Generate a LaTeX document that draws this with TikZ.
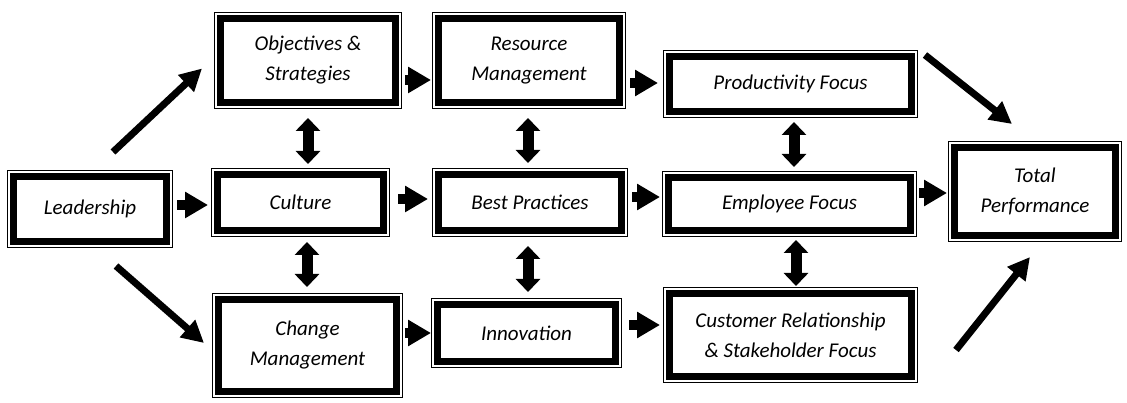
\documentclass[tikz,border=0pt]{standalone}
\usepackage{fontspec}
\setmainfont{Carlito}
\usetikzlibrary{arrows.meta}
\begin{document}
\begin{tikzpicture}[x=1pt,y=-1pt,
  box/.style 2 args={draw=black, line width=7pt, fill=white, inner sep=0pt, outer sep=6.8pt,
    minimum width=#1pt-13.6pt, minimum height=#2pt-13.6pt,
    preaction={draw=black, line width=13.6pt},
    preaction={draw=white, line width=11pt},
    font=\fontsize{21}{30}\selectfont\itshape, align=center},
  blk/.style={line width=10pt, -{Triangle[length=23pt,width=25pt]}},
  dblk/.style={line width=11pt, {Triangle[length=13pt,width=24pt]}-{Triangle[length=13pt,width=24pt]}},
  diag/.style={line width=7pt, -{Triangle[length=22pt,width=22pt]}}
]
\useasboundingbox (0,0) rectangle (1127,403);
\node[box={166}{78}]  (lead)   at (90,209)     {Leadership};
\node[box={188}{97}]  (obj)    at (308,60.5)   {Objectives \&\\Strategies};
\node[box={194}{97}]  (res)    at (529,60.5)   {Resource\\Management};
\node[box={255}{68}]  (prod)   at (790.5,84)   {Productivity Focus};
\node[box={179}{69}]  (cult)   at (300.5,202.5){Culture};
\node[box={196}{69}]  (best)   at (530,202.5)  {Best Practices};
\node[box={255}{66}]  (emp)    at (789.5,204)  {Employee Focus};
\node[box={174}{101}] (total)  at (1035,191.5) {Total\\Performance};
\node[box={191}{105}] (change) at (307.5,345.5){Change\\Management};
\node[box={191}{70}]  (innov)  at (526.5,333)  {Innovation};
\node[box={255}{96}]  (cust)   at (790.5,335)  {Customer Relationship\\\& Stakeholder Focus};

% horizontal block arrows
\draw[blk, shorten <=4pt, shorten >=3pt] (lead.east |- 0,205) -- (cult.west |- 0,205);
\draw[blk, shorten <=8pt, shorten >=4pt] (cult.east |- 0,199) -- (best.west |- 0,199);
\draw[blk, shorten <=4pt, shorten >=2pt] (best.east |- 0,197) -- (emp.west |- 0,197);
\draw[blk, shorten <=2pt, shorten >=1pt] (emp.east |- 0,193) -- (total.west |- 0,193);
\draw[blk, shorten <=3pt, shorten >=1pt] (obj.east |- 0,80) -- (res.west |- 0,80);
\draw[blk, shorten <=4pt, shorten >=5pt] (res.east |- 0,83) -- (prod.west |- 0,83);
\draw[blk, shorten <=2pt, shorten >=0pt] (change.east |- 0,333) -- (innov.west |- 0,333);
\draw[blk, shorten <=7pt, shorten >=3pt] (innov.east |- 0,325) -- (cust.west |- 0,325);

% vertical double arrows
\draw[dblk, shorten <=9pt, shorten >=4pt] (obj.south -| 308,0) -- (cult.north -| 308,0);
\draw[dblk, shorten <=5pt, shorten >=6pt] (cult.south -| 307,0) -- (change.north -| 307,0);
\draw[dblk, shorten <=9pt, shorten >=5pt] (res.south -| 528,0) -- (best.north -| 528,0);
\draw[dblk, shorten <=9pt, shorten >=6pt] (best.south -| 528,0) -- (innov.north -| 528,0);
\draw[dblk, shorten <=4pt, shorten >=4pt] (prod.south -| 794,0) -- (emp.north -| 794,0);
\draw[dblk, shorten <=3pt, shorten >=1pt] (emp.south -| 796,0) -- (cust.north -| 796,0);

% diagonal arrows
\draw[diag] ([shift={(-60,-18)}]lead.north east) -- ([shift={(-12,8)}]obj.west);
\draw[diag] ([shift={(-57,18)}]lead.south east) -- ([shift={(-8,-2.5)}]change.west);
\draw[diag] ([shift={(7,-63)}]prod.south east) -- ([shift={(64,-17)}]total.north west);
\draw[diag] ([shift={(8,108)}]total.south west) -- ([shift={(82,15)}]total.south west);
\end{tikzpicture}
\end{document}
